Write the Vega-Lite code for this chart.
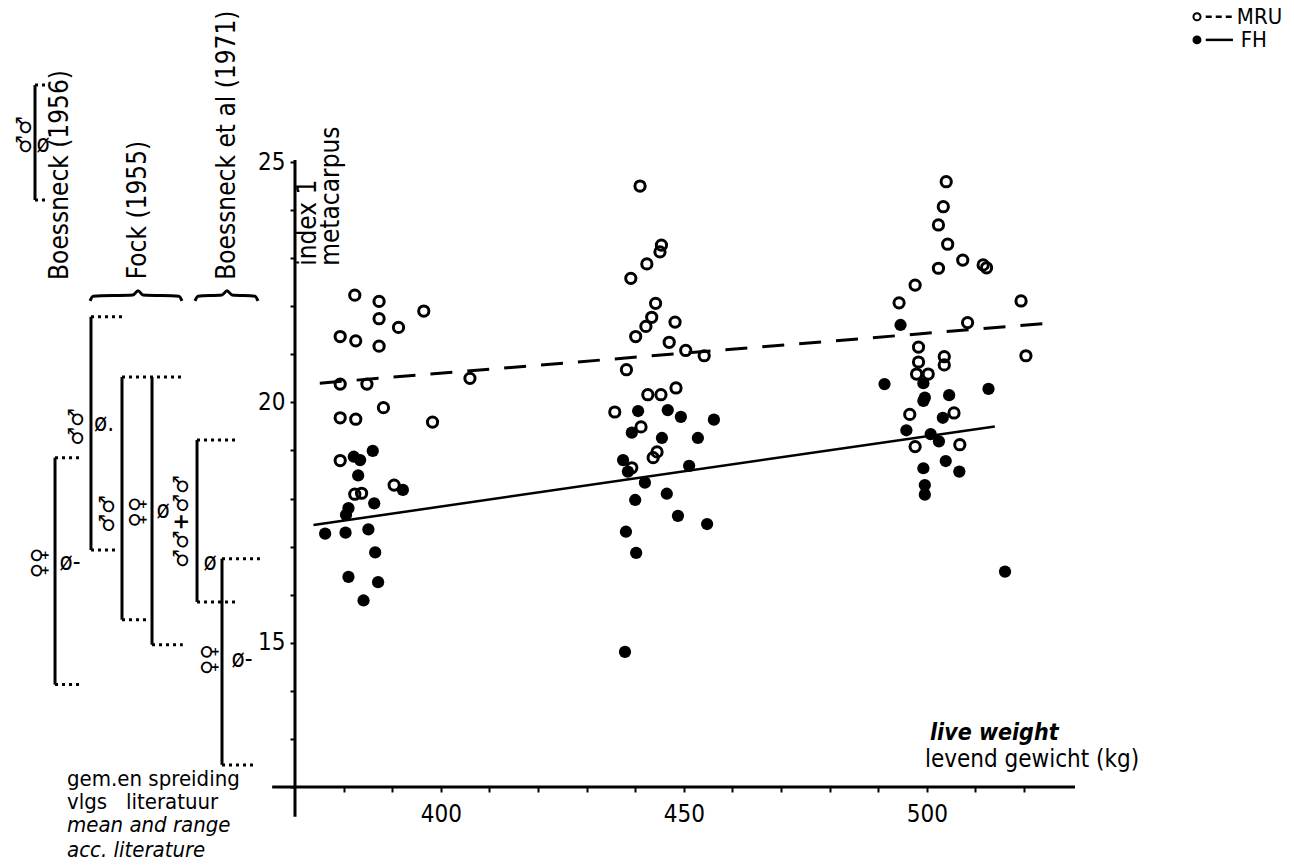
{
  "$schema": "https://vega.github.io/schema/vega-lite/v6.json",
  "width": 780,
  "height": 625,
  "autosize": {"type": "none"},
  "padding": {"left": 295, "top": 162, "right": 219, "bottom": 81},
  "background": "white",
  "config": {"view": {"stroke": null}, "text": {"font": "DejaVu Sans Condensed, DejaVu Sans", "color": "black"}},
  "datasets": {
    "pts": [
      {"series": "MRU", "kg": 382.3, "idx": 22.23}, {"series": "MRU", "kg": 387.3, "idx": 22.10}, {"series": "MRU", "kg": 396.5, "idx": 21.90},
      {"series": "MRU", "kg": 387.3, "idx": 21.74}, {"series": "MRU", "kg": 391.3, "idx": 21.56}, {"series": "MRU", "kg": 379.3, "idx": 21.37},
      {"series": "MRU", "kg": 382.5, "idx": 21.28}, {"series": "MRU", "kg": 387.3, "idx": 21.17}, {"series": "MRU", "kg": 379.3, "idx": 20.38},
      {"series": "MRU", "kg": 384.8, "idx": 20.38}, {"series": "MRU", "kg": 406.0, "idx": 20.50}, {"series": "MRU", "kg": 388.2, "idx": 19.89},
      {"series": "MRU", "kg": 379.3, "idx": 19.68}, {"series": "MRU", "kg": 382.5, "idx": 19.65}, {"series": "MRU", "kg": 398.3, "idx": 19.59},
      {"series": "MRU", "kg": 379.3, "idx": 18.79}, {"series": "MRU", "kg": 390.4, "idx": 18.28}, {"series": "MRU", "kg": 382.3, "idx": 18.09},
      {"series": "MRU", "kg": 383.7, "idx": 18.11},
      {"series": "MRU", "kg": 441.0, "idx": 24.50}, {"series": "MRU", "kg": 445.4, "idx": 23.27}, {"series": "MRU", "kg": 445.1, "idx": 23.13},
      {"series": "MRU", "kg": 442.4, "idx": 22.88}, {"series": "MRU", "kg": 439.1, "idx": 22.58}, {"series": "MRU", "kg": 444.2, "idx": 22.06},
      {"series": "MRU", "kg": 443.4, "idx": 21.77}, {"series": "MRU", "kg": 442.2, "idx": 21.58}, {"series": "MRU", "kg": 448.2, "idx": 21.67},
      {"series": "MRU", "kg": 440.1, "idx": 21.37}, {"series": "MRU", "kg": 447.0, "idx": 21.25}, {"series": "MRU", "kg": 450.4, "idx": 21.08},
      {"series": "MRU", "kg": 454.2, "idx": 20.97}, {"series": "MRU", "kg": 438.2, "idx": 20.68}, {"series": "MRU", "kg": 435.8, "idx": 19.80},
      {"series": "MRU", "kg": 442.6, "idx": 20.16}, {"series": "MRU", "kg": 445.3, "idx": 20.16}, {"series": "MRU", "kg": 448.4, "idx": 20.30},
      {"series": "MRU", "kg": 441.2, "idx": 19.49}, {"series": "MRU", "kg": 444.5, "idx": 18.97}, {"series": "MRU", "kg": 443.7, "idx": 18.85},
      {"series": "MRU", "kg": 439.3, "idx": 18.64},
      {"series": "MRU", "kg": 504.0, "idx": 24.59}, {"series": "MRU", "kg": 503.4, "idx": 24.07}, {"series": "MRU", "kg": 502.4, "idx": 23.69},
      {"series": "MRU", "kg": 504.3, "idx": 23.29}, {"series": "MRU", "kg": 507.4, "idx": 22.96}, {"series": "MRU", "kg": 511.6, "idx": 22.86},
      {"series": "MRU", "kg": 512.3, "idx": 22.80}, {"series": "MRU", "kg": 502.4, "idx": 22.79}, {"series": "MRU", "kg": 497.6, "idx": 22.44},
      {"series": "MRU", "kg": 494.3, "idx": 22.07}, {"series": "MRU", "kg": 519.4, "idx": 22.11}, {"series": "MRU", "kg": 508.4, "idx": 21.66},
      {"series": "MRU", "kg": 520.4, "idx": 20.97}, {"series": "MRU", "kg": 498.3, "idx": 21.15}, {"series": "MRU", "kg": 498.3, "idx": 20.84},
      {"series": "MRU", "kg": 503.6, "idx": 20.95}, {"series": "MRU", "kg": 503.6, "idx": 20.78}, {"series": "MRU", "kg": 497.9, "idx": 20.59},
      {"series": "MRU", "kg": 500.3, "idx": 20.59}, {"series": "MRU", "kg": 496.5, "idx": 19.75}, {"series": "MRU", "kg": 505.6, "idx": 19.78},
      {"series": "MRU", "kg": 497.6, "idx": 19.08}, {"series": "MRU", "kg": 506.8, "idx": 19.12},
      {"series": "FH", "kg": 386.0, "idx": 18.99}, {"series": "FH", "kg": 382.1, "idx": 18.87}, {"series": "FH", "kg": 383.4, "idx": 18.80},
      {"series": "FH", "kg": 383.0, "idx": 18.48}, {"series": "FH", "kg": 386.3, "idx": 17.90}, {"series": "FH", "kg": 381.0, "idx": 17.80},
      {"series": "FH", "kg": 380.5, "idx": 17.66}, {"series": "FH", "kg": 392.2, "idx": 18.18}, {"series": "FH", "kg": 376.2, "idx": 17.27},
      {"series": "FH", "kg": 380.4, "idx": 17.29}, {"series": "FH", "kg": 385.1, "idx": 17.36}, {"series": "FH", "kg": 386.5, "idx": 16.88},
      {"series": "FH", "kg": 381.0, "idx": 16.37}, {"series": "FH", "kg": 387.1, "idx": 16.26}, {"series": "FH", "kg": 384.1, "idx": 15.88},
      {"series": "FH", "kg": 440.6, "idx": 19.82}, {"series": "FH", "kg": 439.3, "idx": 19.37}, {"series": "FH", "kg": 446.7, "idx": 19.84},
      {"series": "FH", "kg": 449.4, "idx": 19.70}, {"series": "FH", "kg": 445.5, "idx": 19.26}, {"series": "FH", "kg": 452.9, "idx": 19.26},
      {"series": "FH", "kg": 456.2, "idx": 19.64}, {"series": "FH", "kg": 437.5, "idx": 18.80}, {"series": "FH", "kg": 438.5, "idx": 18.56},
      {"series": "FH", "kg": 442.0, "idx": 18.33}, {"series": "FH", "kg": 440.0, "idx": 17.97}, {"series": "FH", "kg": 451.1, "idx": 18.68},
      {"series": "FH", "kg": 446.5, "idx": 18.10}, {"series": "FH", "kg": 438.1, "idx": 17.31}, {"series": "FH", "kg": 440.2, "idx": 16.87},
      {"series": "FH", "kg": 448.8, "idx": 17.64}, {"series": "FH", "kg": 454.8, "idx": 17.47}, {"series": "FH", "kg": 437.9, "idx": 14.81},
      {"series": "FH", "kg": 494.6, "idx": 21.61}, {"series": "FH", "kg": 491.3, "idx": 20.38}, {"series": "FH", "kg": 512.7, "idx": 20.28},
      {"series": "FH", "kg": 499.3, "idx": 20.40}, {"series": "FH", "kg": 499.6, "idx": 20.10}, {"series": "FH", "kg": 499.3, "idx": 20.03},
      {"series": "FH", "kg": 504.6, "idx": 20.15}, {"series": "FH", "kg": 503.3, "idx": 19.68}, {"series": "FH", "kg": 495.8, "idx": 19.42},
      {"series": "FH", "kg": 500.8, "idx": 19.34}, {"series": "FH", "kg": 502.5, "idx": 19.19}, {"series": "FH", "kg": 503.9, "idx": 18.78},
      {"series": "FH", "kg": 499.3, "idx": 18.63}, {"series": "FH", "kg": 506.7, "idx": 18.56}, {"series": "FH", "kg": 499.6, "idx": 18.28},
      {"series": "FH", "kg": 499.6, "idx": 18.08}, {"series": "FH", "kg": 516.1, "idx": 16.48}
    ],
    "fits": [
      {"series": "MRU", "kg": 375.1, "idx": 20.40, "kg2": 524.3, "idx2": 21.64},
      {"series": "FH", "kg": 373.8, "idx": 17.45, "kg2": 514.0, "idx2": 19.50}
    ],
    "axisLines": [
      {"part": "y", "kg": 370, "kg2": 370, "idx": 11.38, "idx2": 25.04},
      {"part": "x", "kg": 365.3, "kg2": 530.5, "idx": 12, "idx2": 12}
    ],
    "ranges": [
      {"grp": "Boessneck 1956 males", "kg": 316.5, "idx": 24.21, "idx2": 26.60},
      {"grp": "Boessneck 1956 females", "kg": 320.62, "idx": 14.13, "idx2": 18.85},
      {"grp": "Fock males", "kg": 328.02, "idx": 16.93, "idx2": 21.78},
      {"grp": "Fock castrates", "kg": 334.4, "idx": 15.48, "idx2": 20.53},
      {"grp": "Fock females", "kg": 340.58, "idx": 14.96, "idx2": 20.53},
      {"grp": "Boessneck 1971 males+castrates", "kg": 349.84, "idx": 15.85, "idx2": 19.22},
      {"grp": "Boessneck 1971 females", "kg": 354.98, "idx": 12.46, "idx2": 16.75}
    ],
    "ends": [
      {"grp": "Boessneck 1956 males", "kg": 316.5, "kg2": 318.97, "idx": 26.60},
      {"grp": "Boessneck 1956 males", "kg": 316.5, "kg2": 318.97, "idx": 24.21},
      {"grp": "Boessneck 1956 females", "kg": 320.62, "kg2": 326.17, "idx": 18.85},
      {"grp": "Boessneck 1956 females", "kg": 320.62, "kg2": 325.97, "idx": 14.13},
      {"grp": "Fock males", "kg": 328.02, "kg2": 335.01, "idx": 21.78},
      {"grp": "Fock males", "kg": 328.02, "kg2": 333.6, "idx": 16.93},
      {"grp": "Fock castrates", "kg": 334.4, "kg2": 346.71, "idx": 20.53},
      {"grp": "Fock castrates", "kg": 334.4, "kg2": 340.17, "idx": 15.48},
      {"grp": "Fock females", "kg": 340.58, "kg2": 346.91, "idx": 14.96},
      {"grp": "Boessneck 1971 males+castrates", "kg": 349.84, "kg2": 358.27, "idx": 19.22},
      {"grp": "Boessneck 1971 males+castrates", "kg": 349.84, "kg2": 358.27, "idx": 15.85},
      {"grp": "Boessneck 1971 females", "kg": 354.98, "kg2": 362.78, "idx": 16.75},
      {"grp": "Boessneck 1971 females", "kg": 354.98, "kg2": 362.16, "idx": 12.46}
    ],
    "braces": [
      {"source": "Fock", "ord": 1, "kg": 327.82, "idx": 22.11}, {"source": "Fock", "ord": 2, "kg": 328.44, "idx": 22.21},
      {"source": "Fock", "ord": 3, "kg": 336.67, "idx": 22.235}, {"source": "Fock", "ord": 4, "kg": 337.7, "idx": 22.32},
      {"source": "Fock", "ord": 5, "kg": 338.72, "idx": 22.235}, {"source": "Fock", "ord": 6, "kg": 346.13, "idx": 22.21},
      {"source": "Fock", "ord": 7, "kg": 346.75, "idx": 22.11},
      {"source": "Boessneck 1971", "ord": 1, "kg": 349.42, "idx": 22.11}, {"source": "Boessneck 1971", "ord": 2, "kg": 350.04, "idx": 22.21},
      {"source": "Boessneck 1971", "ord": 3, "kg": 354.98, "idx": 22.235}, {"source": "Boessneck 1971", "ord": 4, "kg": 356.01, "idx": 22.32},
      {"source": "Boessneck 1971", "ord": 5, "kg": 357.04, "idx": 22.235}, {"source": "Boessneck 1971", "ord": 6, "kg": 361.77, "idx": 22.21},
      {"source": "Boessneck 1971", "ord": 7, "kg": 362.39, "idx": 22.11}
    ],
    "titles": [
      {"label": "Boessneck (1956)", "kg": 321.65, "idx": 24.73},
      {"label": "Fock (1955)", "kg": 337.7, "idx": 24.0},
      {"label": "Boessneck et al (1971)", "kg": 356.01, "idx": 25.35}
    ],
    "sexes": [
      {"label": "♂♂", "kg": 314.44, "idx": 25.56},
      {"label": "♀♀", "kg": 317.53, "idx": 16.66},
      {"label": "♂♂", "kg": 325.14, "idx": 19.49},
      {"label": "♂♂", "kg": 331.52, "idx": 17.68},
      {"label": "♀♀", "kg": 337.7, "idx": 17.72},
      {"label": "♂♂+♂♂", "kg": 346.75, "idx": 17.52},
      {"label": "♀♀", "kg": 352.51, "idx": 14.65}
    ],
    "means": [
      {"label": "ø", "kg": 318.15, "idx": 25.35},
      {"label": "ø-", "kg": 323.7, "idx": 16.66},
      {"label": "ø.", "kg": 330.7, "idx": 19.55},
      {"label": "ø", "kg": 342.84, "idx": 17.74},
      {"label": "ø", "kg": 352.51, "idx": 16.66},
      {"label": "ø-", "kg": 359.09, "idx": 14.65}
    ],
    "notes": [
      {"lang": "nl", "label": "gem.en spreiding", "kg": 323.09, "idx": 12.02},
      {"lang": "nl", "label": "vlgs\u00a0\u00a0 literatuur", "kg": 323.09, "idx": 11.55},
      {"lang": "en", "label": "mean and range", "kg": 323.09, "idx": 11.07},
      {"lang": "en", "label": "acc. literature", "kg": 323.09, "idx": 10.55}
    ],
    "ytitle": [
      {"label": "index 1", "kg": 372.67, "idx": 22.84},
      {"label": "metacarpus", "kg": 377.41, "idx": 22.84}
    ],
    "xtitle": [
      {"lang": "en", "label": "live weight", "kg": 500.66, "idx": 12.98},
      {"lang": "nl", "label": "levend gewicht (kg)", "kg": 499.63, "idx": 12.42}
    ],
    "legendSym": [
      {"series": "MRU", "kg": 555.6, "idx": 28.02},
      {"series": "FH", "kg": 555.6, "idx": 27.54}
    ],
    "legendLine": [
      {"series": "MRU", "kg": 557.4, "kg2": 563.0, "idx": 28.02},
      {"series": "FH", "kg": 557.4, "kg2": 563.0, "idx": 27.54}
    ],
    "legendText": [
      {"label": "MRU", "kg": 563.8, "idx": 28.02},
      {"label": "FH", "kg": 564.6, "idx": 27.54}
    ]
  },
  "encoding": {
    "x": {
      "field": "kg", "type": "quantitative",
      "scale": {"domain": [370, 530.5], "nice": false, "zero": false},
      "axis": {
        "title": null, "domain": false, "grid": false,
        "values": [380, 390, 400, 410, 420, 430, 440, 450, 460, 470, 480, 490, 500, 510, 520],
        "labelExpr": "datum.value % 50 === 0 ? datum.label : ''",
        "labelOverlap": false, "labelFlush": false,
        "tickSize": 5, "tickWidth": 2, "tickColor": "black",
        "labelFont": "DejaVu Sans Condensed, DejaVu Sans", "labelFontSize": 24, "labelColor": "black", "labelPadding": 10
      }
    },
    "y": {
      "field": "idx", "type": "quantitative",
      "scale": {"domain": [12, 25], "nice": false, "zero": false},
      "axis": {
        "title": null, "domain": false, "grid": false,
        "values": [12, 13, 14, 15, 16, 17, 18, 19, 20, 21, 22, 23, 24, 25],
        "labelExpr": "datum.value % 5 === 0 ? datum.label : ''",
        "labelOverlap": false, "labelFlush": false,
        "tickSize": 5, "tickWidth": 2, "tickColor": "black",
        "labelFont": "DejaVu Sans Condensed, DejaVu Sans", "labelFontSize": 24, "labelColor": "black", "labelPadding": 5
      }
    }
  },
  "layer": [
    {
      "data": {"name": "axisLines"},
      "mark": {"type": "rule", "color": "black", "strokeWidth": 3},
      "encoding": {"x2": {"field": "kg2"}, "y2": {"field": "idx2"}}
    },
    {
      "data": {"name": "fits"},
      "transform": [{"filter": "datum.series === 'MRU'"}],
      "mark": {"type": "rule", "color": "black", "strokeWidth": 3, "strokeDash": [22, 15]},
      "encoding": {"x2": {"field": "kg2"}, "y2": {"field": "idx2"}}
    },
    {
      "data": {"name": "fits"},
      "transform": [{"filter": "datum.series === 'FH'"}],
      "mark": {"type": "rule", "color": "black", "strokeWidth": 2.5},
      "encoding": {"x2": {"field": "kg2"}, "y2": {"field": "idx2"}}
    },
    {
      "data": {"name": "pts"},
      "transform": [{"filter": "datum.series === 'FH'"}],
      "mark": {"type": "point", "shape": "circle", "filled": true, "color": "black", "size": 150, "opacity": 1}
    },
    {
      "data": {"name": "pts"},
      "transform": [{"filter": "datum.series === 'MRU'"}],
      "mark": {"type": "point", "shape": "circle", "filled": false, "color": "black", "size": 105, "strokeWidth": 3, "opacity": 1}
    },
    {
      "data": {"name": "ranges"},
      "mark": {"type": "rule", "color": "black", "strokeWidth": 3},
      "encoding": {"y2": {"field": "idx2"}}
    },
    {
      "data": {"name": "ends"},
      "mark": {"type": "rule", "color": "black", "strokeWidth": 3, "strokeDash": [3, 4]},
      "encoding": {"x2": {"field": "kg2"}}
    },
    {
      "data": {"name": "braces"},
      "mark": {"type": "line", "color": "black", "strokeWidth": 3, "interpolate": "monotone"},
      "encoding": {"order": {"field": "ord", "type": "quantitative"}, "detail": {"field": "source"}}
    },
    {
      "data": {"name": "titles"},
      "mark": {"type": "text", "angle": 270, "fontSize": 26, "align": "center", "baseline": "middle"},
      "encoding": {"text": {"field": "label"}}
    },
    {
      "data": {"name": "sexes"},
      "mark": {"type": "text", "angle": 270, "fontSize": 21, "fontWeight": "bold", "align": "center", "baseline": "middle", "font": "DejaVu Sans"},
      "encoding": {"text": {"field": "label"}}
    },
    {
      "data": {"name": "means"},
      "mark": {"type": "text", "fontSize": 24, "align": "center", "baseline": "middle"},
      "encoding": {"text": {"field": "label"}}
    },
    {
      "data": {"name": "notes"},
      "transform": [{"filter": "datum.lang === 'nl'"}],
      "mark": {"type": "text", "fontSize": 22, "align": "left", "baseline": "alphabetic"},
      "encoding": {"text": {"field": "label"}}
    },
    {
      "data": {"name": "notes"},
      "transform": [{"filter": "datum.lang === 'en'"}],
      "mark": {"type": "text", "fontSize": 22, "fontStyle": "italic", "align": "left", "baseline": "alphabetic"},
      "encoding": {"text": {"field": "label"}}
    },
    {
      "data": {"name": "ytitle"},
      "mark": {"type": "text", "angle": 270, "fontSize": 26, "align": "left", "baseline": "middle"},
      "encoding": {"text": {"field": "label"}}
    },
    {
      "data": {"name": "xtitle"},
      "transform": [{"filter": "datum.lang === 'en'"}],
      "mark": {"type": "text", "fontSize": 23, "fontStyle": "italic", "fontWeight": "bold", "align": "left", "baseline": "alphabetic"},
      "encoding": {"text": {"field": "label"}}
    },
    {
      "data": {"name": "xtitle"},
      "transform": [{"filter": "datum.lang === 'nl'"}],
      "mark": {"type": "text", "fontSize": 24, "align": "left", "baseline": "alphabetic"},
      "encoding": {"text": {"field": "label"}}
    },
    {
      "data": {"name": "legendLine"},
      "transform": [{"filter": "datum.series === 'MRU'"}],
      "mark": {"type": "rule", "color": "black", "strokeWidth": 2.5, "strokeDash": [6, 4]},
      "encoding": {"x2": {"field": "kg2"}}
    },
    {
      "data": {"name": "legendLine"},
      "transform": [{"filter": "datum.series === 'FH'"}],
      "mark": {"type": "rule", "color": "black", "strokeWidth": 2.5},
      "encoding": {"x2": {"field": "kg2"}}
    },
    {
      "data": {"name": "legendSym"},
      "transform": [{"filter": "datum.series === 'MRU'"}],
      "mark": {"type": "point", "shape": "circle", "filled": false, "color": "black", "size": 50, "strokeWidth": 2, "opacity": 1}
    },
    {
      "data": {"name": "legendSym"},
      "transform": [{"filter": "datum.series === 'FH'"}],
      "mark": {"type": "point", "shape": "circle", "filled": true, "color": "black", "size": 80, "opacity": 1}
    },
    {
      "data": {"name": "legendText"},
      "mark": {"type": "text", "fontSize": 22, "align": "left", "baseline": "middle"},
      "encoding": {"text": {"field": "label"}}
    }
  ]
}
